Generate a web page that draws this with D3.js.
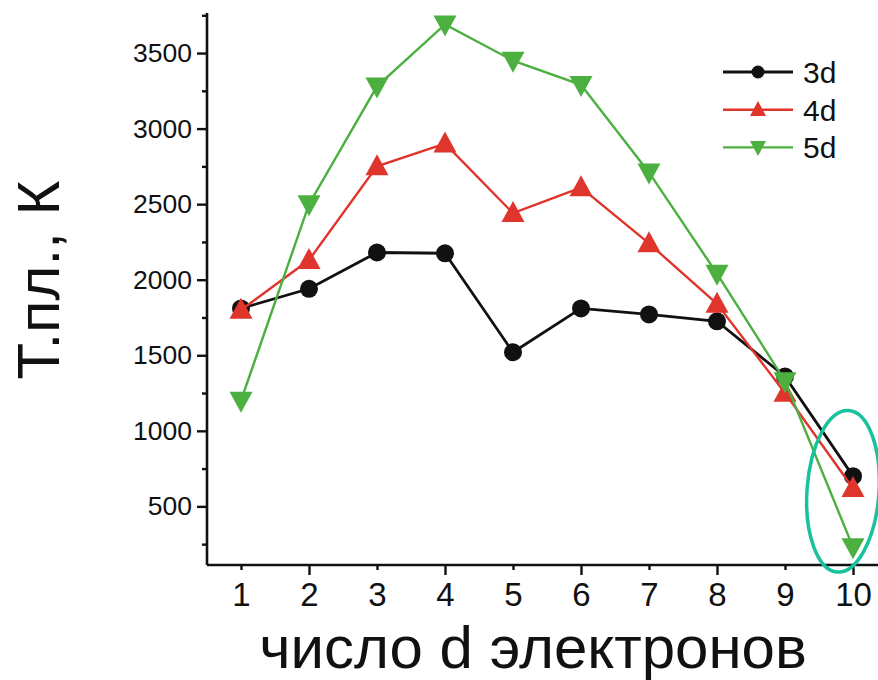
<!DOCTYPE html>
<html><head><meta charset="utf-8">
<script src="https://cdn.jsdelivr.net/npm/d3@7"></script>
<style>body{margin:0;background:#fff}svg{display:block}text{font-family:"Liberation Sans",Arial,sans-serif}</style>
</head><body>
<svg id="c" width="878" height="680"></svg>
<script>
const electrons = [1,2,3,4,5,6,7,8,9,10];
const series3d = [1810,1940,2180,2175,1520,1810,1770,1725,1360,700];
const series4d = [1800,2130,2750,2900,2440,2610,2240,1840,1250,620];
const series5d = [1200,2500,3280,3690,3450,3290,2710,2040,1330,230];
const seriesNames = ["3d","4d","5d"];
const yMajorTicks = [500,1000,1500,2000,2500,3000,3500];
const yMinorTicks = [250,750,1250,1750,2250,2750,3250,3750];
const xMajorTicks = [2,4,6,8,10];
const xMinorTicks = [1,3,5,7,9];
const xLabel = "число d электронов";
const yLabel = "Т.пл., К";

(function(){
const svg = d3.select("#c");
const pL = 207, pR = 887, pT = 13, pB = 565;
const x = d3.scaleLinear().domain([0.5,10.5]).range([pL,pR]);
const y = d3.scaleLinear().domain([112,3765]).range([pB,pT]);

const gy = svg.append("g").attr("transform",`translate(${pL},0)`);
gy.call(d3.axisLeft(y).tickValues(yMajorTicks).tickFormat(d3.format("d")).tickSize(10).tickPadding(5).tickSizeOuter(0));
gy.append("g").attr("class","minor").call(d3.axisLeft(y).tickValues(yMinorTicks).tickSize(5).tickFormat(""));
const gx = svg.append("g").attr("transform",`translate(0,${pB})`);
gx.call(d3.axisBottom(x).tickValues(electrons).tickFormat(d3.format("d")).tickSize(0).tickPadding(18).tickSizeOuter(0));
gx.append("g").attr("class","minor").call(d3.axisBottom(x).tickValues(xMajorTicks).tickSize(10).tickFormat(""));
gx.append("g").attr("class","minor").call(d3.axisBottom(x).tickValues(xMinorTicks).tickSize(5).tickFormat(""));
svg.selectAll(".minor .domain").remove();
svg.selectAll(".domain").attr("stroke","#111").attr("stroke-width",2.6);
svg.selectAll(".tick line").attr("stroke","#111").attr("stroke-width",2.4);
gy.selectAll(".tick text").attr("font-size",26.5).attr("fill","#111").attr("font-family","Liberation Sans, Arial, sans-serif");
gx.selectAll(".tick text").attr("font-size",33).attr("fill","#111").attr("font-family","Liberation Sans, Arial, sans-serif");
gy.select(".domain").attr("d",`M0,${pT}V${pB}`);
gx.select(".domain").attr("d",`M${pL},0H878`);

function tri(w,h,down){
  const s = down?-1:1;
  return `M0,${-s*h*0.58}L${w/2},${s*h*0.42}L${-w/2},${s*h*0.42}Z`;
}

const seriesDefs = [
  {name:seriesNames[0], vals:series3d, color:"#111111", width:2.8, marker:"circle"},
  {name:seriesNames[1], vals:series4d, color:"#e0352d", width:2.4, marker:"up"},
  {name:seriesNames[2], vals:series5d, color:"#4cb040", width:2.4, marker:"down"}
];

seriesDefs.forEach(s=>{
  const g = svg.append("g");
  const line = d3.line().x((d,i)=>x(electrons[i])).y(d=>y(d));
  g.append("path").attr("d",line(s.vals)).attr("fill","none").attr("stroke",s.color).attr("stroke-width",s.width);
  s.vals.forEach((v,i)=>{
    if(s.marker==="circle"){
      g.append("circle").attr("cx",x(electrons[i])).attr("cy",y(v)).attr("r",9).attr("fill",s.color);
    } else {
      g.append("path").attr("d",tri(23,21,s.marker==="down")).attr("transform",`translate(${x(electrons[i])},${y(v)})`).attr("fill",s.color);
    }
  });
});

const lg = svg.append("g");
seriesDefs.forEach((s,i)=>{
  const ly = 72 + i*37.7;
  lg.append("line").attr("x1",723).attr("x2",793).attr("y1",ly).attr("y2",ly).attr("stroke",s.color).attr("stroke-width",s.width);
  if(s.marker==="circle") lg.append("circle").attr("cx",758).attr("cy",ly).attr("r",6.5).attr("fill",s.color);
  else lg.append("path").attr("d",tri(16,15,s.marker==="down")).attr("transform",`translate(758,${ly})`).attr("fill",s.color);
  lg.append("text").attr("x",803).attr("y",ly+11).attr("font-size",30).attr("fill","#111").text(s.name);
});

svg.append("ellipse")
  .attr("transform",`translate(${x(10)-10},${y(600)}) rotate(4)`)
  .attr("rx",36).attr("ry",81)
  .attr("fill","none").attr("stroke","#17c29c").attr("stroke-width",3.5);

svg.append("text").attr("x",533).attr("y",668).attr("text-anchor","middle").attr("font-size",60).attr("fill","#111").text(xLabel);
svg.append("text").attr("transform","translate(59,280) rotate(-90)").attr("text-anchor","middle").attr("font-size",60).attr("fill","#111").text(yLabel);
})();
</script>
</body></html>
